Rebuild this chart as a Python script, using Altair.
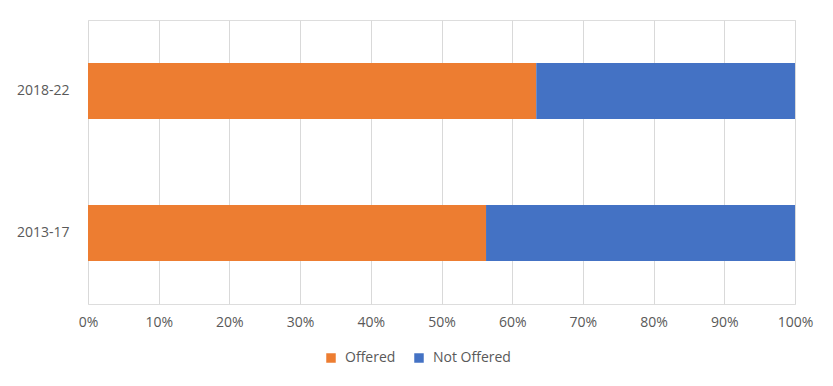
import altair as alt
import pandas as pd

periods = ["2018-22", "2013-17"]
offered = [63.4, 56.3]
not_offered = [36.6, 43.7]
series = ["Offered", "Not Offered"]
colors = ["#ED7D31", "#4472C4"]

rows = []
for i, p in enumerate(periods):
    rows.append({"period": p, "status": "Offered", "value": offered[i] / 100, "ord": 0})
    rows.append({"period": p, "status": "Not Offered", "value": not_offered[i] / 100, "ord": 1})
df = pd.DataFrame(rows)

font = "Open Sans"

chart = alt.Chart(df).mark_bar().encode(
    y=alt.Y("period:N", sort=periods, title=None,
            scale=alt.Scale(paddingInner=0.606, paddingOuter=0.303),
            axis=alt.Axis(domain=False, ticks=False, labelPadding=19, labelFontSize=14,
                          labelColor="#595959", labelFont=font)),
    x=alt.X("value:Q", stack="zero", title=None,
            scale=alt.Scale(domain=[0, 1], nice=False),
            axis=alt.Axis(format=".0%", values=[i / 10 for i in range(11)], domain=False,
                          ticks=False, labelPadding=11, labelFontSize=14, labelFlush=False,
                          labelColor="#595959", labelFont=font,
                          grid=True, gridColor="#D9D9D9", gridWidth=1)),
    color=alt.Color("status:N", scale=alt.Scale(domain=series, range=colors), sort=series,
                    legend=alt.Legend(title=None, orient="none", legendX=236, legendY=331,
                                      direction="horizontal", symbolType="square",
                                      symbolSize=90, symbolStrokeWidth=0, labelFontSize=14,
                                      labelColor="#595959", labelFont=font, columnPadding=16,
                                      labelOffset=7, symbolOpacity=1)),
    order=alt.Order("ord:Q"),
).properties(
    width=707, height=284,
    autosize=alt.AutoSizeParams(type="none"),
    padding={"left": 80, "top": 12, "right": 30, "bottom": 74},
).configure_view(stroke=None).configure(background="white")

chart.save("out.html", embed_options={"renderer": "svg", "actions": False})
